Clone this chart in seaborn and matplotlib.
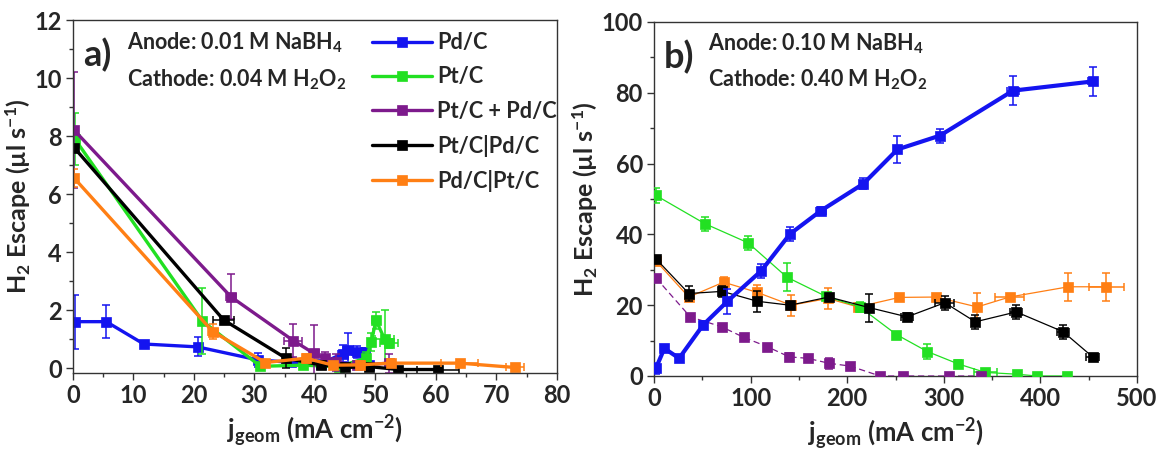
import numpy as np
import pandas as pd
import matplotlib
matplotlib.use("Agg")
import matplotlib.pyplot as plt
from matplotlib.ticker import AutoMinorLocator, MultipleLocator
import seaborn as sns

# ---------------- Panel a: 0.01 M NaBH4 / 0.04 M H2O2 ----------------
a_pd_x = [0.4, 5.5, 11.7, 20.6, 30.6, 36.0, 41.0, 44.6, 45.5, 47.0, 48.2, 49.0]
a_pd_y = [1.6, 1.6, 0.83, 0.73, 0.28, 0.2, 0.15, 0.5, 0.62, 0.55, 0.55, 0.1]
a_pd_yerr = [0.93, 0.57, 0.1, 0.33, 0.25, 0.05, 0.05, 0.3, 0.6, 0.2, 0.15, 0.05]
a_pd_xerr = [0, 0, 0, 0, 0, 0, 0, 0.8, 0.8, 0.8, 0.8, 0]

a_pt_x = [0.3, 21.4, 31.0, 38.0, 44.0, 48.5, 49.3, 50.1, 51.5, 52.2]
a_pt_y = [7.9, 1.62, 0.06, 0.1, 0.05, 0.35, 0.9, 1.65, 1.0, 0.85]
a_pt_yerr = [0.9, 1.15, 0.1, 0.05, 0.05, 0.2, 0.3, 0.3, 1.0, 0.15]
a_pt_xerr = [0, 0, 0, 0, 0, 0, 0, 0.6, 1.5, 1.5]

a_mix_x = [0.2, 26.1, 36.4, 39.8, 41.6, 43.4, 47.0, 52.3]
a_mix_y = [8.2, 2.46, 0.95, 0.51, 0.34, 0.2, 0.1, 0.17]
a_mix_yerr = [2.0, 0.77, 0.57, 0.97, 0.2, 0.3, 0.1, 0.33]
a_mix_xerr = [0, 0.8, 1.5, 0.8, 0, 0, 0, 0]

a_ptpd_x = [0.2, 24.9, 35.2, 41.0, 45.0, 49.0, 53.8, 60.3]
a_ptpd_y = [7.6, 1.66, 0.34, 0.11, 0.02, 0.05, -0.05, -0.05]
a_ptpd_yerr = [0, 0.1, 0.35, 0.1, 0.05, 0.05, 0.05, 0.05]
a_ptpd_xerr = [0, 1.8, 0, 0, 0, 0, 0, 3.5]

a_pdpt_x = [0.2, 23.1, 31.8, 38.5, 43.0, 47.4, 52.6, 63.9, 73.1]
a_pdpt_y = [6.55, 1.26, 0.19, 0.34, 0.1, 0.11, 0.17, 0.17, 0.02]
a_pdpt_yerr = [0.3, 0.25, 0.1, 0.15, 0.1, 0.15, 0.15, 0.12, 0.05]
a_pdpt_xerr = [0, 0.8, 0, 0, 0, 0, 0, 3.0, 1.5]

# ---------------- Panel b: 0.10 M NaBH4 / 0.40 M H2O2 ----------------
b_pd_x = [2, 10.7, 26, 50.8, 76, 111, 140.7, 172.8, 216.7, 252, 296, 371.6, 454]
b_pd_y = [2.2, 7.8, 5.0, 14.4, 21.1, 29.7, 40.1, 46.7, 54.3, 64.0, 67.9, 80.6, 83.2]
b_pd_yerr = [1.5, 0.5, 0.5, 1.0, 3.5, 2.0, 2.0, 1.0, 1.5, 3.7, 2.0, 4.0, 4.0]
b_pd_xerr = [0, 0, 0, 0, 0, 0, 0, 5, 0, 0, 0, 6, 5]

b_pt_x = [2, 52.8, 97.5, 137.6, 178, 213, 251, 283, 315, 343, 376, 396, 428]
b_pt_y = [51.0, 43.0, 37.6, 27.9, 22.5, 19.5, 11.7, 6.9, 3.4, 1.0, 0.5, 0.0, 0.0]
b_pt_yerr = [2.0, 2.0, 2.0, 4.0, 1.0, 1.5, 0.5, 2.0, 1.0, 0.5, 0.3, 0, 0]
b_pt_xerr = [0, 0, 0, 0, 0, 0, 0, 0, 0, 12, 0, 0, 0]

b_mix_x = [2, 37.5, 70, 93, 117, 140, 159, 181, 203, 234, 258, 305, 338]
b_mix_y = [27.7, 16.7, 13.9, 10.9, 8.3, 5.4, 5.0, 3.6, 2.8, 0.0, 0.0, 0.0, 0.0]
b_mix_yerr = [0, 0, 0, 0, 0, 1.0, 0, 1.5, 0, 0, 0, 0, 0]
b_mix_xerr = [0] * 13

b_ptpd_x = [2, 36, 70.7, 107, 140.7, 181, 223, 262, 301, 332.6, 375, 423.5, 454]
b_ptpd_y = [33.1, 23.3, 23.9, 21.1, 20.0, 22.3, 19.3, 16.7, 20.7, 15.3, 18.1, 12.5, 5.4]
b_ptpd_yerr = [0, 2.0, 1.5, 3.0, 0.5, 1.0, 4.0, 1.0, 2.0, 2.0, 2.0, 2.0, 0.5]
b_ptpd_xerr = [0, 0, 0, 0, 0, 0, 0, 6, 10, 0, 6, 6, 7]

b_pdpt_x = [2, 36, 72, 107, 142, 180, 211, 254, 292, 334.5, 368, 429, 468]
b_pdpt_y = [32.5, 22.3, 26.5, 23.6, 20.0, 21.9, 19.5, 22.2, 22.3, 19.5, 22.3, 25.2, 25.2]
b_pdpt_yerr = [0, 1.0, 1.5, 2.0, 3.0, 3.0, 1.0, 0.5, 0.5, 4.0, 0.5, 4.0, 4.0]
b_pdpt_xerr = [0, 0, 0, 0, 0, 0, 0, 0, 0, 0, 15, 0, 18]

labels = ["Pd/C", "Pt/C", "Pt/C + Pd/C", "Pt/C|Pd/C", "Pd/C|Pt/C"]
colors = ["#1414f0", "#22e022", "#7d1a8c", "#000000", "#ff7f14"]

sns.set_theme(style="ticks")
plt.rcParams["font.family"] = ["Lato", "DejaVu Sans"]
plt.rcParams["font.weight"] = "bold"
plt.rcParams["axes.labelweight"] = "bold"
plt.rcParams["mathtext.fontset"] = "custom"
plt.rcParams["mathtext.rm"] = "Lato:bold"
plt.rcParams["mathtext.it"] = "Lato:bold:italic"
plt.rcParams["mathtext.bf"] = "Lato:bold"


def nz(v):
    a = np.asarray(v, dtype=float)
    return np.where(a > 0, a, np.nan)


def draw(ax, x, y, xerr, yerr, color, label, lw, ms, ls="-", z=2):
    df = pd.DataFrame({"x": x, "y": y})
    sns.lineplot(data=df, x="x", y="y", ax=ax, sort=False, estimator=None,
                 color=color, lw=lw, ls=ls, marker="s", markersize=ms,
                 markeredgecolor=color, markeredgewidth=0.5, label=label,
                 legend=False, zorder=z)
    ax.errorbar(x, y, yerr=nz(yerr), xerr=nz(xerr), fmt="none", ecolor=color,
                elinewidth=1.1, capsize=3, capthick=1.1, zorder=z)


fig = plt.figure(figsize=(11.6, 4.53), dpi=100)
ax_a = fig.add_axes([0.0629, 0.1766, 0.4172, 0.7792])
ax_b = fig.add_axes([0.5638, 0.170, 0.4164, 0.7815])

series_a = [
    (a_pd_x, a_pd_y, a_pd_xerr, a_pd_yerr),
    (a_pt_x, a_pt_y, a_pt_xerr, a_pt_yerr),
    (a_mix_x, a_mix_y, a_mix_xerr, a_mix_yerr),
    (a_ptpd_x, a_ptpd_y, a_ptpd_xerr, a_ptpd_yerr),
    (a_pdpt_x, a_pdpt_y, a_pdpt_xerr, a_pdpt_yerr),
]
for (x, y, xe, ye), c, lab in zip(series_a, colors, labels):
    draw(ax_a, x, y, xe, ye, c, lab, lw=2.4, ms=6.5)

series_b = [
    (b_pd_x, b_pd_y, b_pd_xerr, b_pd_yerr, 3.0, "-", 5),
    (b_pt_x, b_pt_y, b_pt_xerr, b_pt_yerr, 0.9, "-", 3),
    (b_mix_x, b_mix_y, b_mix_xerr, b_mix_yerr, 0.9, (0, (5, 3)), 3),
    (b_ptpd_x, b_ptpd_y, b_ptpd_xerr, b_ptpd_yerr, 0.9, "-", 3),
    (b_pdpt_x, b_pdpt_y, b_pdpt_xerr, b_pdpt_yerr, 0.9, "-", 2.5),
]
for (x, y, xe, ye, lw, ls, z), c, lab in zip(series_b, colors, labels):
    draw(ax_b, x, y, xe, ye, c, lab, lw=lw, ms=7.5, ls=ls, z=z)

ax_a.set_xlim(0, 80)
ax_a.set_ylim(-0.17, 12)
ax_a.xaxis.set_major_locator(MultipleLocator(10))
ax_a.yaxis.set_major_locator(MultipleLocator(2))
ax_b.set_xlim(0, 500)
ax_b.set_ylim(0, 100)
ax_b.xaxis.set_major_locator(MultipleLocator(100))
ax_b.yaxis.set_major_locator(MultipleLocator(20))

for ax in (ax_a, ax_b):
    ax.xaxis.set_minor_locator(AutoMinorLocator(2))
    ax.yaxis.set_minor_locator(AutoMinorLocator(2))
    ax.tick_params(which="both", direction="out", top=False, right=False,
                   width=1.0, color="#333333")
    ax.tick_params(which="major", length=5, labelsize=17, pad=3)
    ax.tick_params(which="minor", length=3)
    for sp in ax.spines.values():
        sp.set_visible(True)
        sp.set_linewidth(1.0)
        sp.set_color("#333333")
    ax.set_xlabel("j$_\\mathrm{geom}$ (mA cm$^{-2}$)", fontsize=18.5, labelpad=4)
    ax.set_ylabel("H$_2$ Escape (\u00b5l s$^{-1}$)", fontsize=18, labelpad=1)
    for t in ax.get_xticklabels() + ax.get_yticklabels():
        t.set_fontweight("bold")

ax_a.text(0.02, 0.90, "a)", transform=ax_a.transAxes, fontsize=26,
          fontweight="bold", va="center", ha="left")
ax_a.text(0.112, 0.935, "Anode: 0.01 M NaBH$_4$", transform=ax_a.transAxes,
          fontsize=15.5, fontweight="bold", va="center", ha="left")
ax_a.text(0.112, 0.83, "Cathode: 0.04 M H$_2$O$_2$", transform=ax_a.transAxes,
          fontsize=15.5, fontweight="bold", va="center", ha="left")

ax_b.text(0.021, 0.90, "b)", transform=ax_b.transAxes, fontsize=26,
          fontweight="bold", va="center", ha="left")
ax_b.text(0.112, 0.94, "Anode: 0.10 M NaBH$_4$", transform=ax_b.transAxes,
          fontsize=15.5, fontweight="bold", va="center", ha="left")
ax_b.text(0.112, 0.836, "Cathode: 0.40 M H$_2$O$_2$", transform=ax_b.transAxes,
          fontsize=15.5, fontweight="bold", va="center", ha="left")

ax_a.legend(loc="upper left", bbox_to_anchor=(0.617, 0.965), frameon=False,
            handlelength=2.75, handletextpad=0.25,
            labelspacing=0.6, borderaxespad=0, borderpad=0,
            prop={"weight": "bold", "size": 15.7})

fig.savefig("out.png", dpi=100)
